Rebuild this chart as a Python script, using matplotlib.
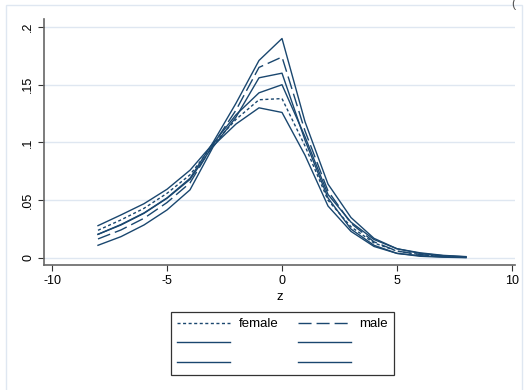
import numpy as np
import matplotlib
matplotlib.use('Agg')
import matplotlib.pyplot as plt
from matplotlib.patches import Rectangle

# values
z = [-8, -7, -6, -5, -4, -3, -2, -1, 0, 1, 2, 3, 4, 5, 6, 7, 8]
female = [0.024, 0.033, 0.043, 0.056, 0.072, 0.098, 0.120, 0.137, 0.138,
          0.097, 0.050, 0.027, 0.013, 0.006, 0.003, 0.0015, 0.0008]
male = [0.0165, 0.0243, 0.0344, 0.048, 0.065, 0.098, 0.128, 0.165, 0.174,
        0.110, 0.058, 0.030, 0.014, 0.006, 0.003, 0.0015, 0.0008]
female_lo = [0.0205, 0.0286, 0.0387, 0.0517, 0.068, 0.097, 0.116, 0.130, 0.126,
             0.089, 0.045, 0.023, 0.010, 0.004, 0.002, 0.001, 0.0005]
female_hi = [0.028, 0.0373, 0.047, 0.0595, 0.076, 0.099, 0.124, 0.143, 0.150,
             0.105, 0.055, 0.031, 0.016, 0.008, 0.0045, 0.0023, 0.0012]
male_lo = [0.011, 0.0185, 0.0286, 0.0416, 0.059, 0.096, 0.122, 0.156, 0.160,
           0.102, 0.052, 0.025, 0.011, 0.004, 0.0015, 0.0007, 0.0003]
male_hi = [0.0205, 0.029, 0.039, 0.052, 0.069, 0.100, 0.134, 0.171, 0.190,
           0.118, 0.064, 0.035, 0.017, 0.008, 0.004, 0.002, 0.001]

xticks = [-10, -5, 0, 5, 10]
yticks = [0, 0.05, 0.1, 0.15, 0.2]
ytick_labels = ['0', '.05', '.1', '.15', '.2']

W, H = 529, 390
navy = '#1a476f'
grid_col = '#dfe7f1'

plt.rcParams['font.family'] = ['Liberation Sans', 'DejaVu Sans']

fig = plt.figure(figsize=(W / 100, H / 100), dpi=100)

# light frame around the graph region
fig.patches.append(Rectangle((6 / W, -0.01), (522 - 6) / W, 1 - 5 / H + 0.01,
                             transform=fig.transFigure, fill=False,
                             edgecolor=grid_col, lw=1.0))
fig.text(511 / W, 1 + 2 / H, '(', fontsize=9, color='#555555', va='top')

ax = fig.add_axes([44 / W, 1 - 265 / H, (515 - 44) / W, (265 - 19) / H])
ax.set_xlim(-10.348, 10.13)
ax.set_ylim(-0.00606, 0.2069)

opts = dict(color=navy, lw=1.0)
l_f, = ax.plot(z, female, dashes=(2.2, 1.8), label='female', **opts)
l_m, = ax.plot(z, male, dashes=(9.4, 3.6), label='male', **opts)
l_flo, = ax.plot(z, female_lo, label=' ', **opts)
l_fhi, = ax.plot(z, female_hi, label=' ', **opts)
l_mlo, = ax.plot(z, male_lo, label=' ', **opts)
l_mhi, = ax.plot(z, male_hi, label=' ', **opts)

# axes styling, stata like
for s in ['top', 'right']:
    ax.spines[s].set_visible(False)
for s in ['left', 'bottom']:
    ax.spines[s].set_color('#666666')
    ax.spines[s].set_linewidth(1.2)
ax.set_xticks(xticks)
ax.set_xticklabels([str(t) for t in xticks])
ax.set_yticks(yticks)
ax.set_yticklabels(ytick_labels, rotation=90, va='center')
ax.tick_params(axis='both', direction='out', length=4, width=0.8,
               color='#333333', labelsize=9, pad=3)
ax.yaxis.grid(True, color=grid_col, lw=1.0)
ax.set_axisbelow(True)
ax.set_xlabel('z', fontsize=9.5, labelpad=3)

# legend: stata fills row-wise, matplotlib column-wise
handles = [l_f, l_flo, l_mlo, l_m, l_fhi, l_mhi]
labels = ['female', '', '', 'male', '', '']
leg = fig.legend(handles, labels, ncol=2, loc='upper center',
                 bbox_to_anchor=(282.5 / W, 1 - 312 / H), fontsize=9.5,
                 frameon=True, fancybox=False, edgecolor='black',
                 handlelength=4.0, handletextpad=0.64, columnspacing=1.5,
                 labelspacing=0.55, borderpad=0.45, borderaxespad=0)
leg.get_frame().set_linewidth(0.9)

plt.savefig('out.png', dpi=100)
